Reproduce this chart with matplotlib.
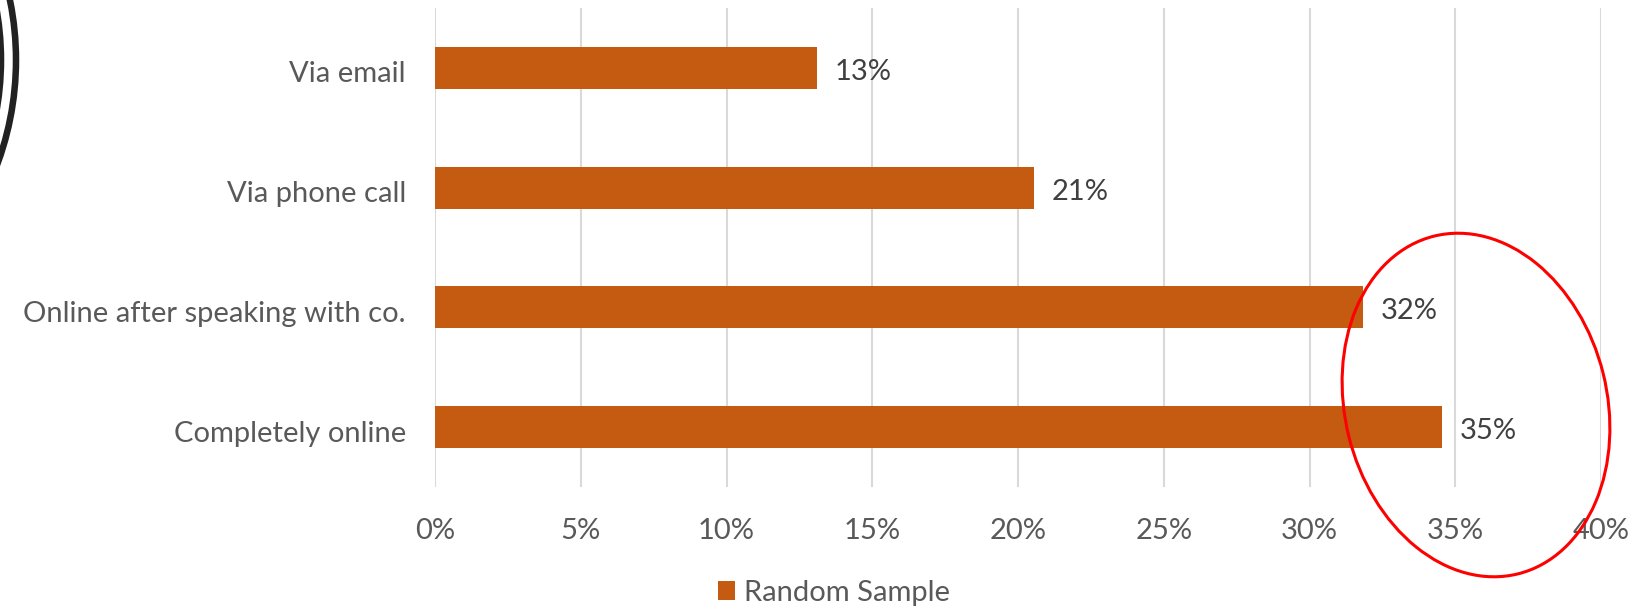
import matplotlib.pyplot as plt
from matplotlib.patches import Ellipse, Circle
from matplotlib.transforms import ScaledTranslation

# =========================
# DATA
# =========================
categories = ["Via email", "Via phone call", "Online after speaking with co.", "Completely online"]
values = [13.1, 20.55, 31.85, 34.55]          # percent
value_labels = ["13%", "21%", "32%", "35%"]
x_ticks = [0, 5, 10, 15, 20, 25, 30, 35, 40]
x_tick_labels = ["0%", "5%", "10%", "15%", "20%", "25%", "30%", "35%", "40%"]
series_name = "Random Sample"

BAR_COLOR = "#C55A11"
GRID_COLOR = "#D9D9D9"
LABEL_COLOR = "#595959"
DATA_COLOR = "#404040"
FONT = "Lato"
FS = 21

plt.rcParams["font.family"] = [FONT, "DejaVu Sans"]

# =========================
# FIGURE
# =========================
fig = plt.figure(figsize=(16.52, 6.06), dpi=100)
ax = fig.add_axes([435 / 1652, 1 - 487 / 606, (1601 - 435) / 1652, (487 - 8) / 606])

y = list(range(len(categories)))
bars = ax.barh(y, values, height=0.35, color=BAR_COLOR, label=series_name, zorder=3)

# nudge text down a few pixels, like the Excel rendering
shift = ScaledTranslation(0, -4 / 100, fig.dpi_scale_trans)

for b, lab in zip(bars, value_labels):
    ax.text(b.get_width() + 0.6, b.get_y() + b.get_height() / 2, lab,
            va="center", ha="left", fontsize=FS, color=DATA_COLOR,
            transform=ax.transData + shift)

ax.set_xlim(0, 40)
ax.set_ylim(len(categories) - 0.5, -0.5)
ax.set_xticks(x_ticks)
ax.set_xticklabels(x_tick_labels)
ax.set_yticks(y)
ax.set_yticklabels(categories)
ax.tick_params(axis="both", length=0, labelsize=FS, labelcolor=LABEL_COLOR)
ax.tick_params(axis="x", pad=22)
ax.tick_params(axis="y", pad=21)
for t in ax.get_yticklabels():
    t.set_transform(t.get_transform() + shift)
ax.grid(axis="x", color=GRID_COLOR, linewidth=1.5, zorder=0)
for s in ax.spines.values():
    s.set_visible(False)

fig.legend(loc="center", bbox_to_anchor=(834 / 1652, 1 - 593 / 606), frameon=False,
           fontsize=FS, labelcolor=LABEL_COLOR, handlelength=0.6, handleheight=0.6,
           handletextpad=0.3)

# =========================
# ANNOTATIONS (drawn in inches)
# =========================
fig.add_artist(Ellipse((14.76, (606 - 405) / 100), 2.62, 3.48, angle=14,
                       transform=fig.dpi_scale_trans, fill=False,
                       edgecolor="red", linewidth=2.2, zorder=10))
# two arcs cut by the left edge
for cx, r in ((-2.84, 3.00), (-2.89, 2.90)):
    fig.add_artist(Circle((cx, (606 - 60) / 100), r, transform=fig.dpi_scale_trans,
                          fill=False, edgecolor="#222222", linewidth=4.7, zorder=10))

fig.savefig("out.png", dpi=100)
